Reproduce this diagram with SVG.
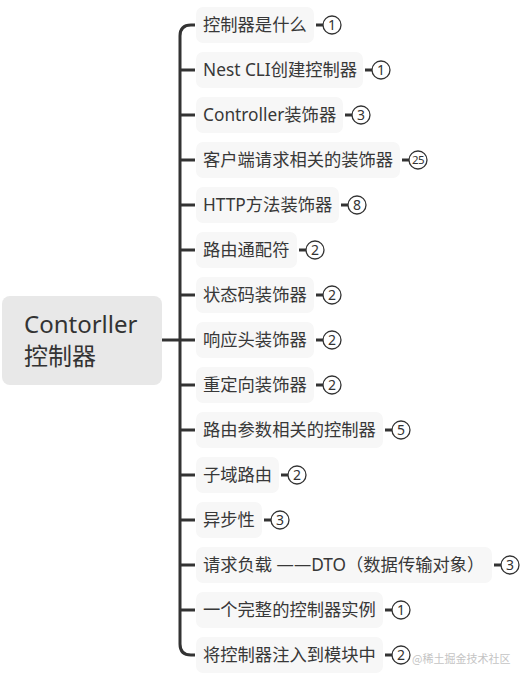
<svg xmlns="http://www.w3.org/2000/svg" width="526" height="683" viewBox="0 0 526 683">
<style>
.bg{fill:#ffffff}
.root{fill:#e8e8e8}
.node{fill:#f7f7f7}
.rt{font-family:"Noto Sans","Noto Sans CJK SC",sans-serif;font-size:24px;fill:#333}
.t{font-family:"Noto Sans","Noto Sans CJK SC",sans-serif;font-size:17.3px;fill:#383838}
.ln{stroke:#333;stroke-width:3;fill:none}
.bc{fill:#fff;stroke:#333;stroke-width:1.3}
.bn{font-family:"Noto Sans",sans-serif;font-size:14px;fill:#333;text-anchor:middle}
.bn2{font-family:"Noto Sans",sans-serif;font-size:11.5px;fill:#333;text-anchor:middle;letter-spacing:-0.6px}
.wm{font-family:"Noto Sans CJK SC",sans-serif;font-size:11px;fill:#c4c4c4}
</style>
<rect class="bg" x="0" y="0" width="526" height="683"/>
<g id="connectors">
<path class="ln" d="M162,340 H180"/>
<path class="ln" d="M195,25 H191 Q180,25 180,36 V644 Q180,655 191,655 H195"/>
<path class="ln" d="M180,70 H195 M180,115 H195 M180,160 H195 M180,205 H195 M180,250 H195 M180,295 H195 M180,340 H195 M180,385 H195 M180,430 H195 M180,475 H195 M180,520 H195 M180,565 H195 M180,610 H195"/>
</g>
<g id="root">
<rect class="root" x="2" y="296" width="160" height="89" rx="8"/>
<text class="rt" x="24" y="333">Contorller</text>
<text class="rt" x="24" y="365">控制器</text>
</g>
<g id="n1"><rect class="node" x="196" y="7" width="118" height="36" rx="7"/><text class="t" x="203" y="31">控制器是什么</text><path class="ln" d="M316,25 H323"/><circle class="bc" cx="332" cy="25" r="9"/><text class="bn" x="332" y="30">1</text></g>
<g id="n2"><rect class="node" x="196" y="52" width="167" height="36" rx="7"/><text class="t" x="203" y="76">Nest CLI创建控制器</text><path class="ln" d="M365,70 H372"/><circle class="bc" cx="381" cy="70" r="9"/><text class="bn" x="381" y="75">1</text></g>
<g id="n3"><rect class="node" x="196" y="97" width="147" height="36" rx="7"/><text class="t" x="203" y="121">Controller装饰器</text><path class="ln" d="M345,115 H352"/><circle class="bc" cx="361" cy="115" r="9"/><text class="bn" x="361" y="120">3</text></g>
<g id="n4"><rect class="node" x="196" y="142" width="204" height="36" rx="7"/><text class="t" x="203" y="166">客户端请求相关的装饰器</text><path class="ln" d="M402,160 H409"/><circle class="bc" cx="418" cy="160" r="9"/><text class="bn2" x="418" y="164">25</text></g>
<g id="n5"><rect class="node" x="196" y="187" width="143" height="36" rx="7"/><text class="t" x="203" y="211">HTTP方法装饰器</text><path class="ln" d="M341,205 H348"/><circle class="bc" cx="357" cy="205" r="9"/><text class="bn" x="357" y="210">8</text></g>
<g id="n6"><rect class="node" x="196" y="232" width="101" height="36" rx="7"/><text class="t" x="203" y="256">路由通配符</text><path class="ln" d="M299,250 H306"/><circle class="bc" cx="315" cy="250" r="9"/><text class="bn" x="315" y="255">2</text></g>
<g id="n7"><rect class="node" x="196" y="277" width="118" height="36" rx="7"/><text class="t" x="203" y="301">状态码装饰器</text><path class="ln" d="M316,295 H323"/><circle class="bc" cx="332" cy="295" r="9"/><text class="bn" x="332" y="300">2</text></g>
<g id="n8"><rect class="node" x="196" y="322" width="118" height="36" rx="7"/><text class="t" x="203" y="346">响应头装饰器</text><path class="ln" d="M316,340 H323"/><circle class="bc" cx="332" cy="340" r="9"/><text class="bn" x="332" y="345">2</text></g>
<g id="n9"><rect class="node" x="196" y="367" width="118" height="36" rx="7"/><text class="t" x="203" y="391">重定向装饰器</text><path class="ln" d="M316,385 H323"/><circle class="bc" cx="332" cy="385" r="9"/><text class="bn" x="332" y="390">2</text></g>
<g id="n10"><rect class="node" x="196" y="412" width="187" height="36" rx="7"/><text class="t" x="203" y="436">路由参数相关的控制器</text><path class="ln" d="M385,430 H392"/><circle class="bc" cx="401" cy="430" r="9"/><text class="bn" x="401" y="435">5</text></g>
<g id="n11"><rect class="node" x="196" y="457" width="83" height="36" rx="7"/><text class="t" x="203" y="481">子域路由</text><path class="ln" d="M281,475 H288"/><circle class="bc" cx="297" cy="475" r="9"/><text class="bn" x="297" y="480">2</text></g>
<g id="n12"><rect class="node" x="196" y="502" width="66" height="36" rx="7"/><text class="t" x="203" y="526">异步性</text><path class="ln" d="M264,520 H271"/><circle class="bc" cx="280" cy="520" r="9"/><text class="bn" x="280" y="525">3</text></g>
<g id="n13"><rect class="node" x="196" y="547" width="296" height="36" rx="7"/><text class="t" x="203" y="571">请求负载 ——DTO（数据传输对象）</text><path class="ln" d="M494,565 H501"/><circle class="bc" cx="510" cy="565" r="9"/><text class="bn" x="510" y="570">3</text></g>
<g id="n14"><rect class="node" x="196" y="592" width="187" height="36" rx="7"/><text class="t" x="203" y="616">一个完整的控制器实例</text><path class="ln" d="M385,610 H392"/><circle class="bc" cx="401" cy="610" r="9"/><text class="bn" x="401" y="615">1</text></g>
<g id="n15"><rect class="node" x="196" y="637" width="187" height="36" rx="7"/><text class="t" x="203" y="661">将控制器注入到模块中</text><path class="ln" d="M385,655 H392"/><circle class="bc" cx="401" cy="655" r="9"/><text class="bn" x="401" y="660">2</text></g>
<text class="wm" x="412" y="663">@稀土掘金技术社区</text>
</svg>
